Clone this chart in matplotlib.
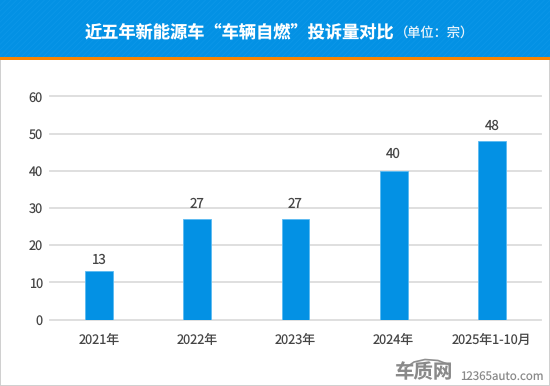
import matplotlib
matplotlib.use("Agg")
import matplotlib.pyplot as plt
from matplotlib.lines import Line2D
from matplotlib.patches import Rectangle

plt.rcParams['font.family'] = ['Noto Sans CJK SC', 'DejaVu Sans']
plt.rcParams['hatch.linewidth'] = 0.6
plt.rcParams['text.hinting'] = 'no_hinting'

categories = ['2021年', '2022年', '2023年', '2024年', '2025年1-10月']
values = [13, 27, 27, 40, 48]
yticks = [0, 10, 20, 30, 40, 50, 60]
title = '近五年新能源车“车辆自燃”投诉量对比'
unit = '（单位：宗）'

W, H = 550, 386
fig = plt.figure(figsize=(W / 100, H / 100), dpi=100, facecolor='white')

def fx(x): return x / W
def fy(y): return 1 - y / H

# frame and header
fig.add_artist(Rectangle((0, 0), 1, 1, transform=fig.transFigure, fc='white', ec='#cfcfcf', lw=1.4, zorder=-5))
fig.add_artist(Rectangle((0, fy(57)), 1, 57 / H, transform=fig.transFigure, fc='#0391E4', ec='#0C97E8',
                         hatch='//////', lw=0, zorder=-4))
fig.add_artist(Rectangle((0, fy(60)), 1, 3 / H, transform=fig.transFigure, fc='#F78400', ec='none', zorder=-4))

fig.text(fx(85), fy(32), title, color='white', fontsize=12.4, fontweight='bold', ha='left', va='center')
fig.text(fx(395), fy(32.5), unit, color='#e4f2fb', fontsize=9.5, ha='left', va='center')

# chart
ax = fig.add_axes([fx(50), fy(319.5), (541 - 50) / W, (319.5 - 96.3) / H], facecolor='none')
x = range(len(categories))
ax.bar(x, values, width=0.285, color='#0391E4', edgecolor='#5BBBF2', linewidth=0.6, zorder=3)
ax.set_xlim(-0.5, 4.5)
ax.set_ylim(0, 60)
ax.set_yticks(yticks)
ax.set_xticks(list(x), categories)
ax.grid(axis='y', color='#dcdcdc', lw=1.3, zorder=0)
ax.set_axisbelow(True)
for s in ax.spines.values():
    s.set_visible(False)
ax.tick_params(axis='both', length=0, labelsize=9.2, labelcolor='#454545')
ax.tick_params(axis='y', pad=5)
ax.tick_params(axis='x', pad=10)
for g in ax.get_ygridlines():
    g.set_clip_on(False)
label_gaps = [9.2, 11.7, 11.7, 13, 11.7]  # points between bar top and label
for xi, v, gap in zip(x, values, label_gaps):
    ax.annotate(str(v), (xi, v), xytext=(0, gap), textcoords='offset points',
                ha='center', va='center_baseline', fontsize=9.6, color='#454545')

# watermark
fig.add_artist(Line2D([fx(407), fx(414), fx(425), fx(438), fx(450)],
                      [fy(367), fy(362), fy(359.5), fy(360.5), fy(365)],
                      color='#8f8f8f', lw=1.2, transform=fig.transFigure))
fig.text(fx(394), fy(372.5), '车质网', color='#8a8a8a', fontsize=14, fontweight='bold', ha='left', va='center')
fig.text(fx(460), fy(377), '12365auto.com', color='#8a8a8a', fontsize=8.3, ha='left', va='center')

fig.savefig('out.png', dpi=100)
